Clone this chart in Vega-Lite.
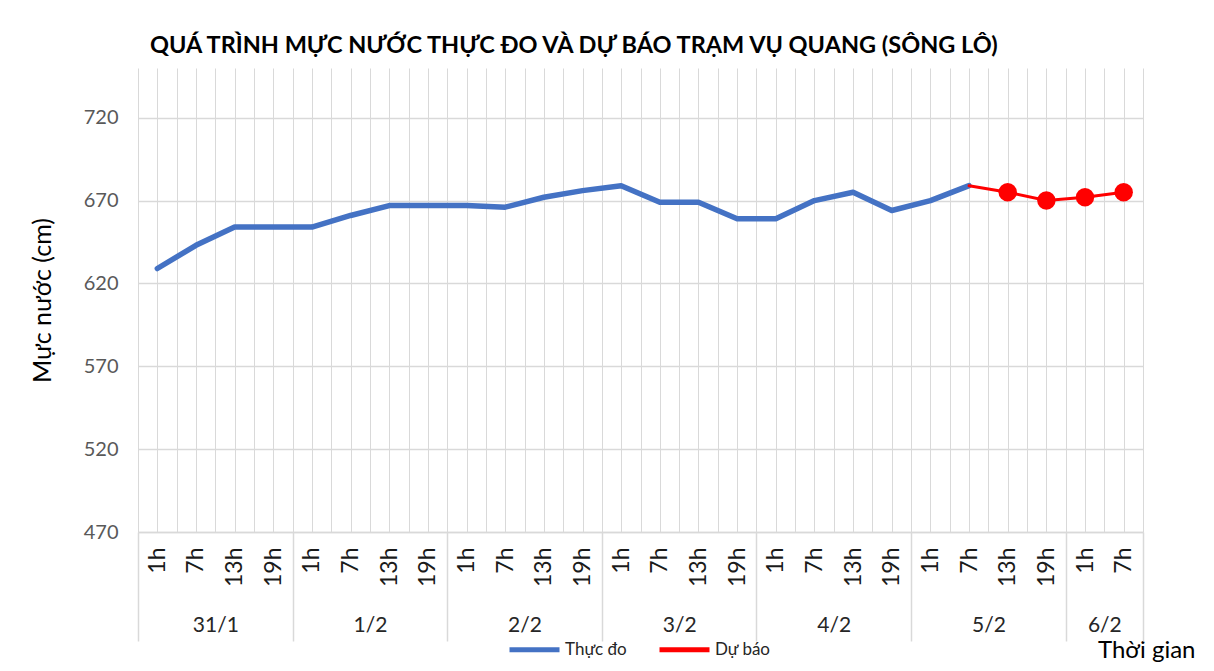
{
  "$schema": "https://vega.github.io/schema/vega-lite/v6.json",
  "width": 1005,
  "height": 464,
  "autosize": {"type": "none"},
  "padding": {"left": 138, "top": 68, "right": 71, "bottom": 139},
  "background": "white",
  "title": {
    "text": "QUÁ TRÌNH MỰC NƯỚC THỰC ĐO VÀ DỰ BÁO TRẠM VỤ QUANG (SÔNG LÔ)",
    "anchor": "start",
    "frame": "group",
    "dx": 12,
    "offset": 11,
    "font": "Lato",
    "fontSize": 23.5,
    "fontWeight": "bold",
    "color": "#000000"
  },
  "datasets": {
    "obs": [
      {"i": 0, "date": "31/1", "hour": "1h", "value": 629, "series": "Thực đo"},
      {"i": 1, "date": "31/1", "hour": "7h", "value": 643, "series": "Thực đo"},
      {"i": 2, "date": "31/1", "hour": "13h", "value": 654, "series": "Thực đo"},
      {"i": 3, "date": "31/1", "hour": "19h", "value": 654, "series": "Thực đo"},
      {"i": 4, "date": "1/2", "hour": "1h", "value": 654, "series": "Thực đo"},
      {"i": 5, "date": "1/2", "hour": "7h", "value": 661, "series": "Thực đo"},
      {"i": 6, "date": "1/2", "hour": "13h", "value": 667, "series": "Thực đo"},
      {"i": 7, "date": "1/2", "hour": "19h", "value": 667, "series": "Thực đo"},
      {"i": 8, "date": "2/2", "hour": "1h", "value": 667, "series": "Thực đo"},
      {"i": 9, "date": "2/2", "hour": "7h", "value": 666, "series": "Thực đo"},
      {"i": 10, "date": "2/2", "hour": "13h", "value": 672, "series": "Thực đo"},
      {"i": 11, "date": "2/2", "hour": "19h", "value": 676, "series": "Thực đo"},
      {"i": 12, "date": "3/2", "hour": "1h", "value": 679, "series": "Thực đo"},
      {"i": 13, "date": "3/2", "hour": "7h", "value": 669, "series": "Thực đo"},
      {"i": 14, "date": "3/2", "hour": "13h", "value": 669, "series": "Thực đo"},
      {"i": 15, "date": "3/2", "hour": "19h", "value": 659, "series": "Thực đo"},
      {"i": 16, "date": "4/2", "hour": "1h", "value": 659, "series": "Thực đo"},
      {"i": 17, "date": "4/2", "hour": "7h", "value": 670, "series": "Thực đo"},
      {"i": 18, "date": "4/2", "hour": "13h", "value": 675, "series": "Thực đo"},
      {"i": 19, "date": "4/2", "hour": "19h", "value": 664, "series": "Thực đo"},
      {"i": 20, "date": "5/2", "hour": "1h", "value": 670, "series": "Thực đo"},
      {"i": 21, "date": "5/2", "hour": "7h", "value": 679, "series": "Thực đo"}
    ],
    "fc": [
      {"i": 21, "date": "5/2", "hour": "7h", "value": 679, "series": "Dự báo"},
      {"i": 22, "date": "5/2", "hour": "13h", "value": 675, "series": "Dự báo"},
      {"i": 23, "date": "5/2", "hour": "19h", "value": 670, "series": "Dự báo"},
      {"i": 24, "date": "6/2", "hour": "1h", "value": 672, "series": "Dự báo"},
      {"i": 25, "date": "6/2", "hour": "7h", "value": 675, "series": "Dự báo"}
    ]
  },
  "layer": [
    {
      "data": {"name": "obs"},
      "mark": {"type": "line", "strokeWidth": 5.5, "strokeCap": "round", "strokeJoin": "round"},
      "encoding": {
        "x": {
          "field": "i", "type": "quantitative",
          "scale": {"domain": [-0.5, 25.5], "nice": false, "zero": false},
          "axis": {
            "orient": "bottom",
            "values": [-0.5,0,0.5,1,1.5,2,2.5,3,3.5,4,4.5,5,5.5,6,6.5,7,7.5,8,8.5,9,9.5,10,10.5,11,11.5,12,12.5,13,13.5,14,14.5,15,15.5,16,16.5,17,17.5,18,18.5,19,19.5,20,20.5,21,21.5,22,22.5,23,23.5,24,24.5,25,25.5],
            "labelExpr": "datum.value % 1 == 0 ? ['1h','7h','13h','19h'][datum.value % 4] : ''",
            "labelAngle": 270,
            "labelFont": "Lato",
            "labelFontSize": 23,
            "labelColor": "#1a1a1a",
            "labelPadding": 15,
            "labelOverlap": false,
            "labelBound": false,
            "labelFlush": false,
            "ticks": false,
            "grid": true,
            "gridColor": "#d9d9d9",
            "gridWidth": 1,
            "domain": true,
            "domainColor": "#d9d9d9",
            "domainWidth": 1.5,
            "title": null
          }
        },
        "y": {
          "field": "value", "type": "quantitative",
          "scale": {"domain": [470, 750], "nice": false, "zero": false},
          "title": "Mực nước (cm)",
          "axis": {"values": [470, 520, 570, 620, 670, 720]}
        },
        "color": {
          "field": "series", "type": "nominal",
          "scale": {"domain": ["Thực đo", "Dự báo"], "range": ["#4472C4", "#FF0000"]},
          "legend": {
            "orient": "none",
            "direction": "horizontal",
            "legendX": 369,
            "legendY": 554,
            "title": null,
            "symbolType": "stroke",
            "symbolSize": 2500,
            "symbolStrokeWidth": 5,
            "labelFont": "Lato",
            "labelFontSize": 17,
            "labelColor": "#262626",
            "columnPadding": 22,
            "labelOffset": 3
          }
        }
      }
    },
    {
      "data": {"name": "fc"},
      "mark": {"type": "line", "strokeWidth": 3, "strokeCap": "round"},
      "encoding": {
        "x": {
          "field": "i", "type": "quantitative",
          "scale": {"domain": [-0.5, 25.5], "nice": false, "zero": false},
          "axis": {
            "orient": "bottom",
            "values": [1.5, 5.5, 9.5, 13.5, 17.5, 21.5, 24.5],
            "labelExpr": "['31/1','1/2','2/2','3/2','4/2','5/2','6/2'][indexof([1.5,5.5,9.5,13.5,17.5,21.5,24.5], datum.value)]",
            "labelFont": "Lato",
            "labelFontSize": 21,
            "labelColor": "#262626",
            "labelPadding": 82,
            "labelAngle": 0,
            "labelOverlap": false,
            "labelFlush": false,
            "ticks": false,
            "grid": false,
            "domain": false,
            "title": "Thời gian",
            "titleFont": "Lato",
            "titleFontSize": 24,
            "titleFontWeight": "normal",
            "titleColor": "#000000",
            "titleAlign": "right",
            "titleBaseline": "top",
            "titleX": 1057,
            "titleY": 106
          }
        },
        "y": {
          "field": "value", "type": "quantitative",
          "scale": {"domain": [470, 750], "nice": false, "zero": false},
          "title": "Mực nước (cm)",
          "axis": {"values": [470, 520, 570, 620, 670, 720]}
        },
        "color": {"field": "series", "type": "nominal"}
      }
    },
    {
      "data": {"name": "fc"},
      "transform": [{"filter": "datum.i > 21"}],
      "mark": {"type": "point", "filled": true, "opacity": 1, "size": 340, "shape": "circle"},
      "encoding": {
        "x": {
          "field": "i", "type": "quantitative",
          "scale": {"domain": [-0.5, 25.5], "nice": false, "zero": false},
          "axis": {
            "orient": "bottom",
            "values": [-0.5, 3.5, 7.5, 11.5, 15.5, 19.5, 23.5, 25.5],
            "labels": false,
            "ticks": true,
            "tickSize": 109,
            "tickColor": "#d9d9d9",
            "tickWidth": 1.5,
            "grid": false,
            "domain": false,
            "title": null
          }
        },
        "y": {
          "field": "value", "type": "quantitative",
          "scale": {"domain": [470, 750], "nice": false, "zero": false},
          "title": "Mực nước (cm)",
          "axis": {"values": [470, 520, 570, 620, 670, 720]}
        },
        "color": {"field": "series", "type": "nominal"}
      }
    }
  ],
  "resolve": {"axis": {"x": "independent"}},
  "config": {
    "view": {"stroke": null},
    "axisY": {
      "grid": true,
      "gridColor": "#d9d9d9",
      "gridWidth": 1.5,
      "domain": false,
      "ticks": false,
      "labelFont": "Lato",
      "labelFontSize": 20,
      "labelColor": "#595959",
      "labelPadding": 20,
      "titleFont": "Lato",
      "titleFontSize": 25,
      "titleFontWeight": "normal",
      "titleColor": "#000000",
      "titlePadding": 28
    }
  }
}
